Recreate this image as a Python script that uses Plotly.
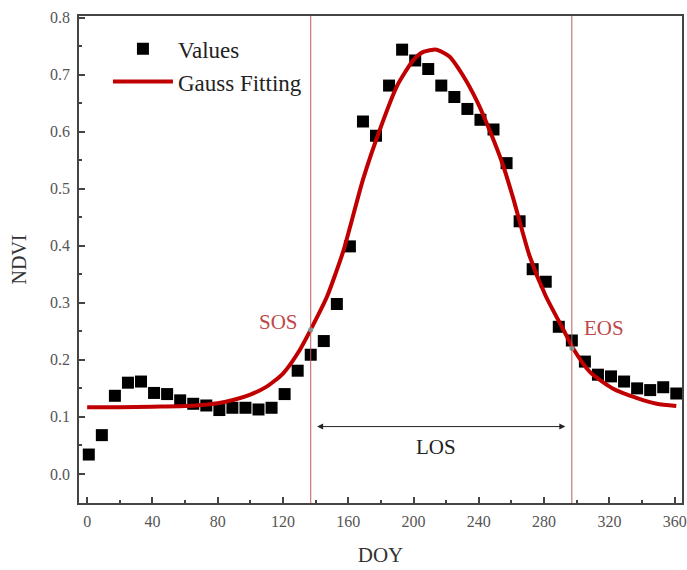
import plotly.graph_objects as go

# Observed NDVI values
doy = [1, 9, 17, 25, 33, 41, 49, 57, 65, 73, 81, 89, 97, 105, 113, 121, 129, 137,
       145, 153, 161, 169, 177, 185, 193, 201, 209, 217, 225, 233, 241, 249, 257,
       265, 273, 281, 289, 297, 305, 313, 321, 329, 337, 345, 353, 361]
ndvi = [0.034, 0.068, 0.137, 0.160, 0.162, 0.142, 0.140, 0.129, 0.123, 0.120, 0.112,
        0.116, 0.116, 0.113, 0.116, 0.140, 0.181, 0.209, 0.233, 0.298, 0.399, 0.618,
        0.593, 0.681, 0.744, 0.725, 0.710, 0.681, 0.661, 0.640, 0.621, 0.604, 0.545,
        0.443, 0.359, 0.337, 0.258, 0.234, 0.197, 0.174, 0.171, 0.162, 0.150, 0.147,
        0.152, 0.141]

# Gauss fitting curve
fit_doy = [0, 20, 40, 60, 70, 80, 90, 100, 110, 120, 130, 137, 147, 157, 161, 169,
           179, 190, 200, 206, 214, 222, 230, 239, 247, 255, 261, 271, 281, 292, 298,
           308, 322, 337, 349, 361]
fit_ndvi = [0.117, 0.117, 0.118, 0.119, 0.121, 0.124, 0.130, 0.139, 0.153, 0.176,
            0.216, 0.253, 0.311, 0.391, 0.432, 0.516, 0.601, 0.681, 0.726, 0.740,
            0.744, 0.732, 0.700, 0.653, 0.600, 0.540, 0.484, 0.383, 0.312, 0.252,
            0.219, 0.179, 0.150, 0.133, 0.123, 0.119]

# Phenology markers
sos_doy, sos_ndvi = 137, 0.253
eos_doy, eos_ndvi = 297, 0.220
los_arrow = [140, 293]
los_y = 0.083

x_ticks = [0, 40, 80, 120, 160, 200, 240, 280, 320, 360]
y_ticks = [0.0, 0.1, 0.2, 0.3, 0.4, 0.5, 0.6, 0.7, 0.8]

FONT = "Liberation Serif"
RED = "#c00000"
VLINE = "rgb(185,95,95)"

fig = go.Figure()
fig.add_trace(go.Scatter(
    x=doy, y=ndvi, mode="markers", name="Values",
    marker=dict(symbol="square", size=12, color="black"),
))
fig.add_trace(go.Scatter(
    x=fit_doy, y=fit_ndvi, mode="lines", name="Gauss Fitting",
    line=dict(color=RED, width=4, shape="spline", smoothing=0.6),
))
fig.add_trace(go.Scatter(
    x=[sos_doy, eos_doy], y=[sos_ndvi, eos_ndvi], mode="markers",
    marker=dict(size=5, color="#6fa7a7"), showlegend=False, hoverinfo="skip",
))

for xv in (sos_doy, eos_doy):
    fig.add_vline(x=xv, line=dict(color=VLINE, width=1))

fig.add_annotation(x=los_arrow[1], y=los_y, ax=los_arrow[0], ay=los_y,
                   xref="x", yref="y", axref="x", ayref="y", text="",
                   showarrow=True, arrowhead=2, arrowside="end+start",
                   arrowsize=1.2, arrowwidth=1, arrowcolor="#222")
fig.add_annotation(x=214, y=0.047, text="LOS", showarrow=False,
                   font=dict(family=FONT, size=21, color="#222"))
fig.add_annotation(x=117.5, y=0.267, text="SOS", showarrow=False,
                   font=dict(family=FONT, size=21, color="#c04848"))
fig.add_annotation(x=317, y=0.256, text="EOS", showarrow=False,
                   font=dict(family=FONT, size=21, color="#c04848"))

axis_common = dict(
    showline=True, linecolor="#444", linewidth=1.5, mirror=True,
    ticks="inside", ticklen=6, tickwidth=1.5, tickcolor="#444",
    showgrid=False, zeroline=False, automargin=False,
    tickfont=dict(family=FONT, size=16, color="#555"),
)
fig.update_xaxes(
    range=[-5, 364.5], tickvals=x_ticks, ticklabeloverflow="allow",
    ticklabelstandoff=3,
    minor=dict(ticks="inside", ticklen=3, dtick=20, tickcolor="#444"),
    title=dict(text="DOY", font=dict(family=FONT, size=21, color="#333"), standoff=18),
    **axis_common,
)
fig.update_yaxes(
    range=[-0.051, 0.803], tickvals=y_ticks, tickformat=".1f",
    ticklabelstandoff=4,
    minor=dict(ticks="inside", ticklen=3, dtick=0.05, tickcolor="#444"),
    title=dict(text="NDVI", font=dict(family=FONT, size=20, color="#333"), standoff=18),
    **axis_common,
)

fig.update_layout(
    width=687, height=570,
    margin=dict(l=79, r=5, t=16, b=67),
    paper_bgcolor="white", plot_bgcolor="white",
    font=dict(family=FONT),
    legend=dict(x=0.048, y=0.977, xanchor="left", yanchor="top",
                bgcolor="rgba(0,0,0,0)", itemwidth=60, tracegroupgap=0,
                font=dict(family=FONT, size=23, color="#222")),
)

fig.write_html("out.html", config={"displayModeBar": False},
               post_script="document.body.style.margin='0';document.body.style.overflow='hidden';")
